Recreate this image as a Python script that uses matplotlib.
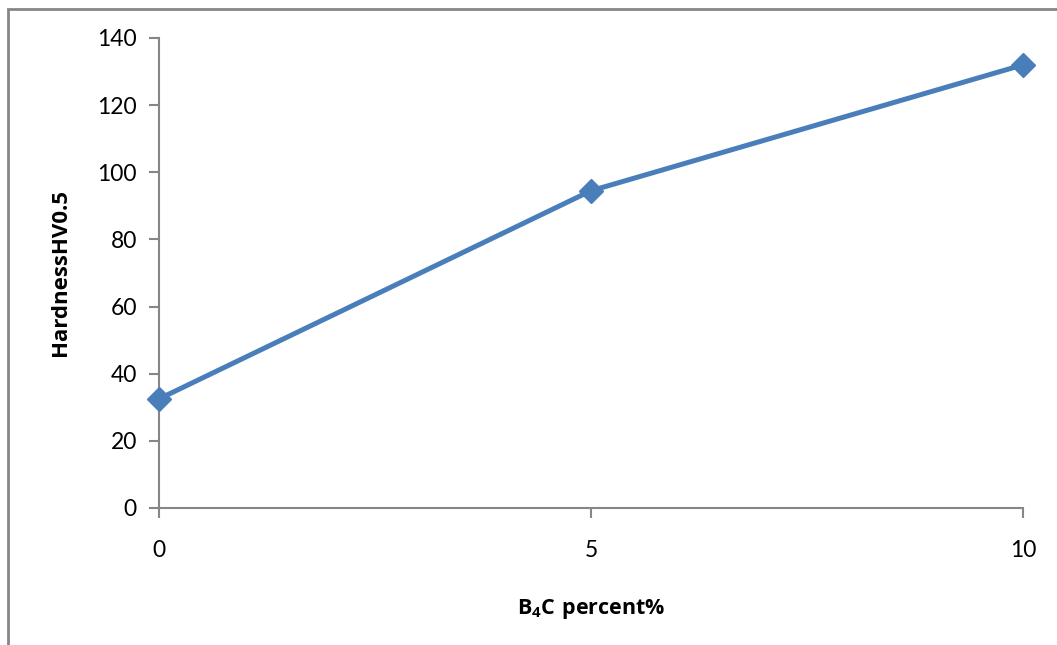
import matplotlib
matplotlib.use('Agg')
import matplotlib.pyplot as plt
from matplotlib.patches import Rectangle

# data
b4c_percent = [0, 5, 10]
hardness = [32.5, 94.5, 132]
y_ticks = [0, 20, 40, 60, 80, 100, 120, 140]

plt.rcParams['font.family'] = ['Lato', 'DejaVu Sans']
plt.rcParams['mathtext.fontset'] = 'custom'
plt.rcParams['mathtext.rm'] = 'Open Sans:weight=bold'
plt.rcParams['mathtext.bf'] = 'Open Sans:weight=bold'

fig = plt.figure(figsize=(10.57, 6.45), dpi=100)
ax = fig.add_axes([159 / 1057, 137 / 645, 864 / 1057, 470 / 645])

# outer chart border (cut off on right and bottom in the original)
fig.patches.append(Rectangle((8 / 1057, -0.1), 1.2, (636 + 0.1 * 645) / 645,
                             transform=fig.transFigure, fill=False,
                             edgecolor='#868686', linewidth=2))

ax.plot(b4c_percent, hardness, color='#4A7EBB', linewidth=3.6,
        marker='D', markersize=12, markeredgecolor='#4A7EBB',
        clip_on=False, zorder=3)

ax.set_xlim(0, 10)
ax.set_ylim(0, 140)
ax.set_xticks(b4c_percent)
ax.set_yticks(y_ticks)

for side in ['top', 'right']:
    ax.spines[side].set_visible(False)
for side in ['left', 'bottom']:
    ax.spines[side].set_color('#868686')
    ax.spines[side].set_linewidth(1.5)

ax.tick_params(axis='both', colors='#868686', labelcolor='black', labelsize=16.5,
               width=1.5, length=7)
ax.tick_params(axis='x', pad=16)
ax.tick_params(axis='y', pad=9)

ax.set_xlabel(r'$\mathbf{B_4C\ percent\%}$', fontsize=15.5, labelpad=26)
ax.set_ylabel('HardnessHV0.5', fontsize=16, fontfamily='Open Sans',
              fontweight='bold', labelpad=19)

fig.savefig('out.png', dpi=100)
